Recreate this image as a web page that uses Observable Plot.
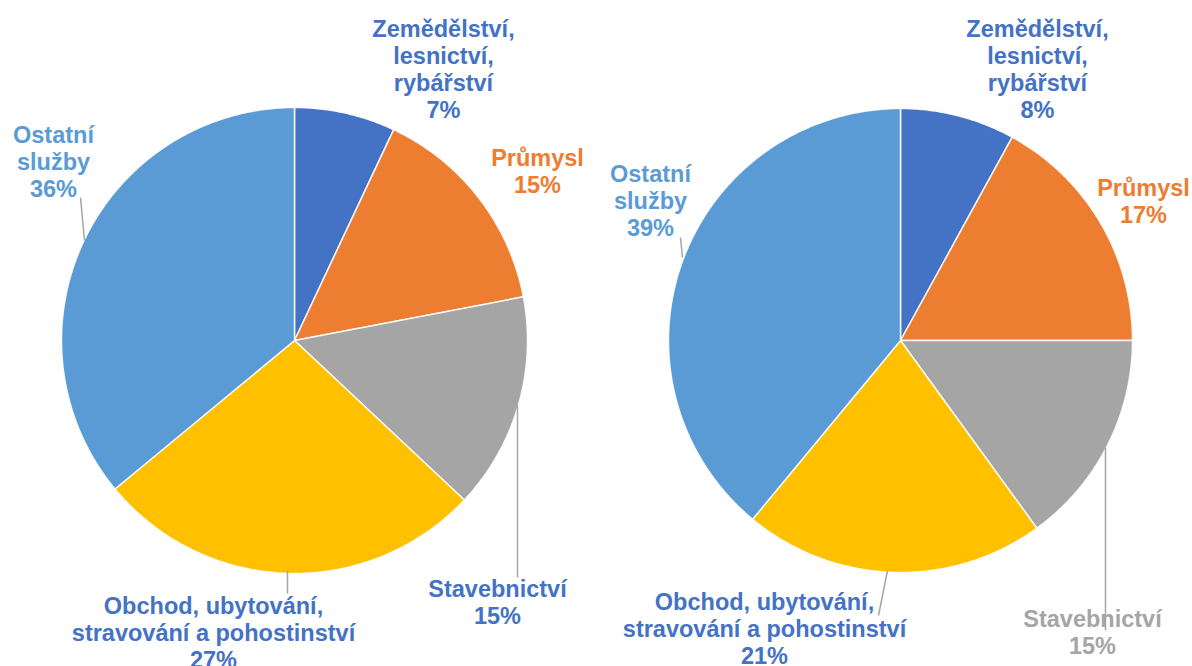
<!DOCTYPE html>
<html>
<head>
<meta charset="utf-8">
<script src="https://cdn.jsdelivr.net/npm/d3@7"></script>
<script src="https://cdn.jsdelivr.net/npm/@observablehq/plot@0.6"></script>
<style>
  html, body { margin: 0; padding: 0; background: #ffffff; }
  #chart svg { display: block; }
</style>
</head>
<body>
<div id="chart"></div>
<script>
// ---- data ----
const categories = [
  "Zemědělství, lesnictví, rybářství",
  "Průmysl",
  "Stavebnictví",
  "Obchod, ubytování, stravování a pohostinství",
  "Ostatní služby"
];
const labelNames = [
  "Zemědělství,\nlesnictví,\nrybářství",
  "Průmysl",
  "Stavebnictví",
  "Obchod, ubytování,\nstravování a pohostinství",
  "Ostatní\nslužby"
];
const valuesLeft = [7, 15, 15, 27, 36];
const valuesRight = [8, 17, 15, 21, 39];

// ---- styles / layout ----
const sliceColors = ["#4472C4", "#ED7D31", "#A5A5A5", "#FFC000", "#5B9BD5"];
const labelColorsLeft = ["#4472C4", "#ED7D31", "#4472C4", "#4472C4", "#5B9BD5"];
const labelColorsRight = ["#4472C4", "#ED7D31", "#A5A5A5", "#4472C4", "#5B9BD5"];
const W = 1192, H = 666;
const pies = [
  {values: valuesLeft, cx: 294, cy: 340, r: 233, labelColors: labelColorsLeft,
   labelPos: [[443, 68], [537, 170], [497, 601], [213, 632], [53, 161]],
   leaders: [null, null, [[517, 405], [517, 577]], [[287, 570], [287, 593]], [[84, 240], [80, 197]]]},
  {values: valuesRight, cx: 900, cy: 340, r: 232, labelColors: labelColorsRight,
   labelPos: [[1037, 68], [1143, 200], [1092, 631], [764, 628], [650, 200]],
   leaders: [null, null, [[1105, 447], [1105, 630]], [[887, 570], [878, 615]], [[682, 257], [680, 237]]]}
];

// ---- build slices from data ----
const pieGen = d3.pie().sort(null).value(d => d);
const slices = [];
const labels = [];
const leaderLines = [];
pies.forEach((p, pi) => {
  const arcs = pieGen(p.values);
  arcs.forEach((a, i) => {
    const ring = [[p.cx, p.cy]];
    const n = Math.max(2, Math.ceil((a.endAngle - a.startAngle) / 0.01));
    for (let k = 0; k <= n; k++) {
      const t = a.startAngle + (a.endAngle - a.startAngle) * k / n;
      ring.push([p.cx + p.r * Math.sin(t), p.cy - p.r * Math.cos(t)]);
    }
    ring.push([p.cx, p.cy]);
    slices.push({type: "Feature", properties: {category: categories[i], pie: pi},
      geometry: {type: "Polygon", coordinates: [ring]}});
    const total = d3.sum(p.values);
    labels.push({
      x: p.labelPos[i][0], y: p.labelPos[i][1],
      text: labelNames[i] + "\n" + Math.round(p.values[i] / total * 100) + "%",
      color: p.labelColors[i]
    });
    if (p.leaders[i]) {
      const [[x1, y1], [x2, y2]] = p.leaders[i];
      leaderLines.push({x1, y1, x2, y2});
    }
  });
});

const frame = {type: "Polygon", coordinates: [[[0, 0], [W, 0], [W, H], [0, H], [0, 0]]]};

const textMarks = labels.map(l => Plot.text([l], {
  x: "x", y: "y", text: "text",
  fill: l.color,
  fontSize: 23.5,
  fontWeight: "bold",
  fontFamily: "'Liberation Sans', Arial, sans-serif",
  lineHeight: 1.15,
  lineAnchor: "middle",
  textAnchor: "middle"
}));

const chart = Plot.plot({
  width: W,
  height: H,
  margin: 0,
  projection: {type: "identity", domain: frame},
  color: {domain: categories, range: sliceColors},
  marks: [
    Plot.geo(slices, {fill: d => d.properties.category, stroke: "#ffffff", strokeWidth: 1.5, strokeOpacity: 0.9}),
    Plot.link(leaderLines, {x1: "x1", y1: "y1", x2: "x2", y2: "y2", stroke: "#A5A5A5", strokeWidth: 1.5}),
    ...textMarks
  ]
});
document.getElementById("chart").appendChild(chart);
</script>
</body>
</html>
